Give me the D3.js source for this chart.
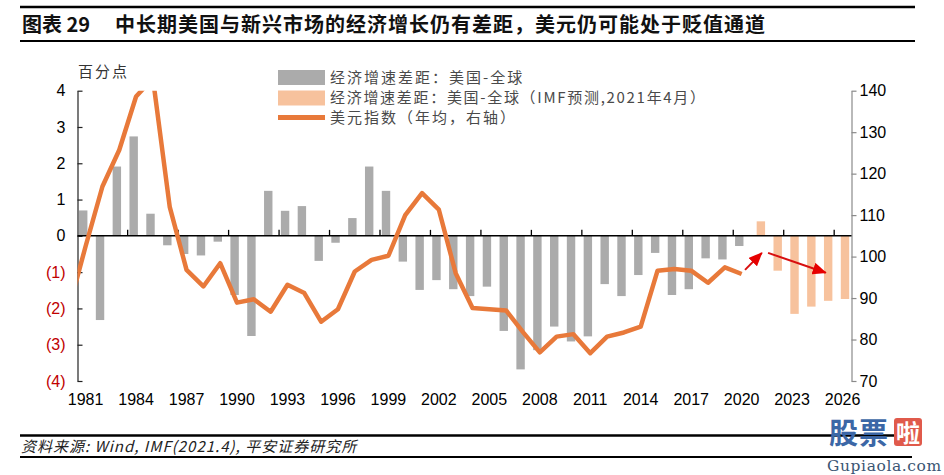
<!DOCTYPE html>
<html><head><meta charset="utf-8">
<script src="https://cdn.jsdelivr.net/npm/d3@7/dist/d3.min.js"></script>
<style>
html,body{margin:0;padding:0;background:#fff;}
svg{display:block;}
</style></head><body>
<svg id="chart" width="944" height="475"></svg>
<script>
// ---------------- data ----------------
const categories = ["1981","1982","1983","1984","1985","1986","1987","1988","1989","1990",
  "1991","1992","1993","1994","1995","1996","1997","1998","1999","2000",
  "2001","2002","2003","2004","2005","2006","2007","2008","2009","2010",
  "2011","2012","2013","2014","2015","2016","2017","2018","2019","2020",
  "2021","2022","2023","2024","2025","2026"];
const histYears = categories.slice(0, 40);
const gapHist = [0.70,-2.32,1.91,2.74,0.61,-0.26,-0.50,-0.54,-0.16,-1.63,
  -2.76,1.24,0.69,0.82,-0.69,-0.19,0.49,1.91,1.24,-0.71,
  -1.49,-1.22,-1.47,-1.66,-1.40,-2.62,-3.68,-3.15,-2.50,-2.91,
  -2.77,-1.33,-1.66,-1.08,-0.47,-1.63,-1.47,-0.62,-0.65,-0.28];
const imfYears = ["2021","2022","2023","2024","2025","2026"];
const gapImf = [0.40,-0.96,-2.15,-1.95,-1.79,-1.74];
const dxyYears = [1980,1981,1982,1983,1984,1985,1986,1987,1988,1989,1990,
  1991,1992,1993,1994,1995,1996,1997,1998,1999,2000,
  2001,2002,2003,2004,2005,2006,2007,2008,2009,2010,
  2011,2012,2013,2014,2015,2016,2017,2018,2019,2020];
const dxy = [87.4,102.5,116.9,125.7,138.6,143.0,112.0,96.8,92.8,98.4,88.9,
  89.7,86.7,93.2,91.2,84.3,87.3,96.4,99.2,100.2,110.0,
  115.3,111.3,96.0,87.6,87.3,87.0,81.8,76.9,80.7,81.3,
  76.7,80.7,81.7,83.1,96.6,97.0,96.6,93.7,97.4,95.8];
const leftTicks = [4,3,2,1,0,-1,-2,-3,-4];
const leftTickLabels = ["4","3","2","1","0","(1)","(2)","(3)","(4)"];
const rightTicks = [140,130,120,110,100,90,80,70];
const xTickLabels = ["1981","1984","1987","1990","1993","1996","1999","2002","2005","2008","2011","2014","2017","2020","2023","2026"];
const legendLabels = ["经济增速差距：美国-全球","经济增速差距：美国-全球（IMF预测,2021年4月）","美元指数（年均，右轴）"];
const arrowNotes = [ {x0:2020.2, v0:96.8, x1:2021.2, v1:100.9}, {x0:2021.57, v0:100.9, x1:2025.0, v1:96.1} ];
const titleLabel = "图表 29";
const titleText = "中长期美国与新兴市场的经济增长仍有差距，美元仍可能处于贬值通道";
const leftUnit = "百分点";
const sourceText = "资料来源: Wind, IMF(2021.4), 平安证券研究所";

// ---------------- layout ----------------
const L = 77.5, R = 851.5, T = 90.7, B = 381;
const COL_GRAY = "#ababab", COL_PEACH = "#f7c29d", COL_LINE = "#e8793a", COL_RED = "#c00000";
const CJK = "'Noto Sans CJK SC','Noto Sans',sans-serif";
const NUM = "'Liberation Sans',Arial,sans-serif";

const svg = d3.select("#chart");

const x = d3.scaleBand().domain(categories).range([77.2, 851]).paddingInner(0.5).paddingOuter(0.25);
const step = x.step(), bw = x.bandwidth();
const xc = yr => x("1981") + bw / 2 + (yr - 1981) * step;   // continuous position via band scale
const seriesShift = d3.scalePoint().domain(["hist", "imf"]).range([-2.4, 2.4]);
const yL = d3.scaleLinear().domain([-4, 4]).range([B, T]);
const yR = d3.scaleLinear().domain([70, 140]).range([B, T]);

// ---------------- title & footer ----------------
svg.append("line").attr("x1", 20).attr("x2", 915).attr("y1", 7).attr("y2", 7).attr("stroke", "#000").attr("stroke-width", 2.5);
svg.append("line").attr("x1", 20).attr("x2", 915).attr("y1", 41).attr("y2", 41).attr("stroke", "#000").attr("stroke-width", 2);
svg.append("text").attr("x", 22).attr("y", 32).attr("font-family", CJK).attr("font-weight", "bold")
  .attr("font-size", 20).attr("fill", "#111").text(titleLabel);
svg.append("text").attr("x", 115).attr("y", 32).attr("font-family", CJK).attr("font-weight", "bold")
  .attr("font-size", 20).attr("letter-spacing", 1).attr("fill", "#111").text(titleText);

svg.append("line").attr("x1", 20).attr("x2", 912).attr("y1", 435.5).attr("y2", 435.5).attr("stroke", "#000").attr("stroke-width", 2.5);
svg.append("line").attr("x1", 20).attr("x2", 912).attr("y1", 457).attr("y2", 457).attr("stroke", "#000").attr("stroke-width", 2);
svg.append("text").attr("x", 21).attr("y", 452).attr("font-family", CJK).attr("font-style", "italic")
  .attr("font-size", 15).attr("letter-spacing", 1).attr("fill", "#222").text(sourceText);

// ---------------- bars ----------------
const g = svg.append("g");
const histData = histYears.map((c, i) => ({c, v: gapHist[i], s: "hist"}));
const imfData = imfYears.map((c, i) => ({c, v: gapImf[i], s: "imf"}));
g.selectAll("rect.hist").data(histData).join("rect").attr("class", "hist")
  .attr("x", d => x(d.c) + seriesShift(d.s)).attr("width", bw)
  .attr("y", d => yL(Math.max(0, d.v))).attr("height", d => Math.abs(yL(d.v) - yL(0)))
  .attr("fill", COL_GRAY);
g.selectAll("rect.imf").data(imfData).join("rect").attr("class", "imf")
  .attr("x", d => x(d.c) + seriesShift(d.s)).attr("width", bw)
  .attr("y", d => yL(Math.max(0, d.v))).attr("height", d => Math.abs(yL(d.v) - yL(0)))
  .attr("fill", COL_PEACH);

// ---------------- axes ----------------
const axL = d3.axisLeft(yL).tickValues(leftTicks).tickSizeInner(-5).tickSizeOuter(0).tickPadding(12)
  .tickFormat((d, i) => leftTickLabels[i]);
const gL = svg.append("g").attr("transform", `translate(${L},0)`).call(axL);
gL.select(".domain").attr("stroke", "#222").attr("stroke-width", 1.2);
gL.selectAll(".tick line").attr("stroke", "#222").attr("stroke-width", 1.2);
gL.selectAll(".tick text").attr("font-family", NUM).attr("font-size", 16)
  .attr("fill", d => d < 0 ? COL_RED : "#000");

const axR = d3.axisRight(yR).tickValues(rightTicks).tickSizeInner(5).tickSizeOuter(0).tickPadding(3);
const gR = svg.append("g").attr("transform", `translate(${R},0)`).call(axR);
gR.select(".domain").attr("stroke", "#8a8a8a").attr("stroke-width", 1.2);
gR.selectAll(".tick line").attr("stroke", "#8a8a8a").attr("stroke-width", 1.2);
gR.selectAll(".tick text").attr("font-family", NUM).attr("font-size", 16).attr("fill", "#000");

// zero line with upward category ticks
const y0 = yL(0);
svg.append("line").attr("x1", L).attr("x2", R).attr("y1", y0).attr("y2", y0).attr("stroke", "#000").attr("stroke-width", 1.5);
svg.append("g").selectAll("line").data(xTickLabels.slice(1)).join("line")
  .attr("x1", d => x(d) - step * 0.25).attr("x2", d => x(d) - step * 0.25)
  .attr("y1", y0).attr("y2", y0 - 6).attr("stroke", "#000").attr("stroke-width", 1.3);
svg.append("g").selectAll("text").data(xTickLabels).join("text")
  .attr("x", d => x(d) + bw / 2).attr("y", 405).attr("text-anchor", "middle")
  .attr("font-family", NUM).attr("font-size", 16).attr("fill", "#000").text(d => d);

svg.append("text").attr("x", 78).attr("y", 77).attr("font-family", CJK).attr("font-size", 15)
  .attr("letter-spacing", 2).attr("fill", "#333").text(leftUnit);

// ---------------- dollar index line ----------------
svg.append("clipPath").attr("id", "plotclip").append("rect")
  .attr("x", L).attr("y", T).attr("width", R - L).attr("height", B - T);
const line = d3.line().x((d, i) => xc(dxyYears[i])).y(d => yR(d));
svg.append("path").datum(dxy).attr("d", line).attr("clip-path", "url(#plotclip)")
  .attr("fill", "none").attr("stroke", COL_LINE).attr("stroke-width", 4.5)
  .attr("stroke-linejoin", "round");

// ---------------- arrows ----------------
const defs = svg.append("defs");
defs.append("marker").attr("id", "ah").attr("markerUnits", "userSpaceOnUse")
  .attr("viewBox", "0 0 14 12").attr("markerWidth", 14).attr("markerHeight", 12)
  .attr("refX", 13).attr("refY", 6).attr("orient", "auto")
  .append("path").attr("d", "M0,0 L14,6 L0,12 Z").attr("fill", "#e60000");
svg.append("g").selectAll("line").data(arrowNotes).join("line")
  .attr("x1", d => xc(d.x0)).attr("y1", d => yR(d.v0))
  .attr("x2", d => xc(d.x1)).attr("y2", d => yR(d.v1))
  .attr("stroke", "#d80f0f").attr("stroke-width", 2).attr("marker-end", "url(#ah)");

// ---------------- legend ----------------
const lg = svg.append("g");
lg.append("rect").attr("x", 278).attr("y", 70).attr("width", 47).attr("height", 15).attr("fill", COL_GRAY);
lg.append("rect").attr("x", 278).attr("y", 90.5).attr("width", 47).attr("height", 15).attr("fill", COL_PEACH);
lg.append("line").attr("x1", 278).attr("x2", 325).attr("y1", 117.5).attr("y2", 117.5)
  .attr("stroke", COL_LINE).attr("stroke-width", 5);
lg.selectAll("text").data(legendLabels).join("text")
  .attr("x", 330).attr("y", (d, i) => 77.5 + i * 20).attr("dy", "0.35em")
  .attr("font-family", CJK).attr("font-size", 15).attr("letter-spacing", (d, i) => i === 1 ? 1.7 : 2)
  .attr("fill", "#4a4a4a").text(d => d);

// ---------------- watermark ----------------
const wm = svg.append("g");
wm.append("text").attr("x", 829).attr("y", 444).attr("font-family", CJK).attr("font-weight", "bold")
  .attr("font-size", 29).attr("fill", "#3c67a6").attr("letter-spacing", 1).text("股票");
wm.append("rect").attr("x", 894).attr("y", 418).attr("width", 28).attr("height", 28).attr("rx", 3).attr("fill", "#e05a4b");
wm.append("text").attr("x", 908).attr("y", 442).attr("text-anchor", "middle").attr("font-family", CJK)
  .attr("font-weight", "bold").attr("font-size", 24).attr("fill", "#fff").text("啦");
wm.append("text").attr("x", 827).attr("y", 471).attr("font-family", "'DejaVu Serif','Liberation Serif',serif")
  .attr("font-size", 15.5).attr("fill", "#3a5573").attr("letter-spacing", 0.6).text("Gupiaola.com");
</script>
</body></html>
